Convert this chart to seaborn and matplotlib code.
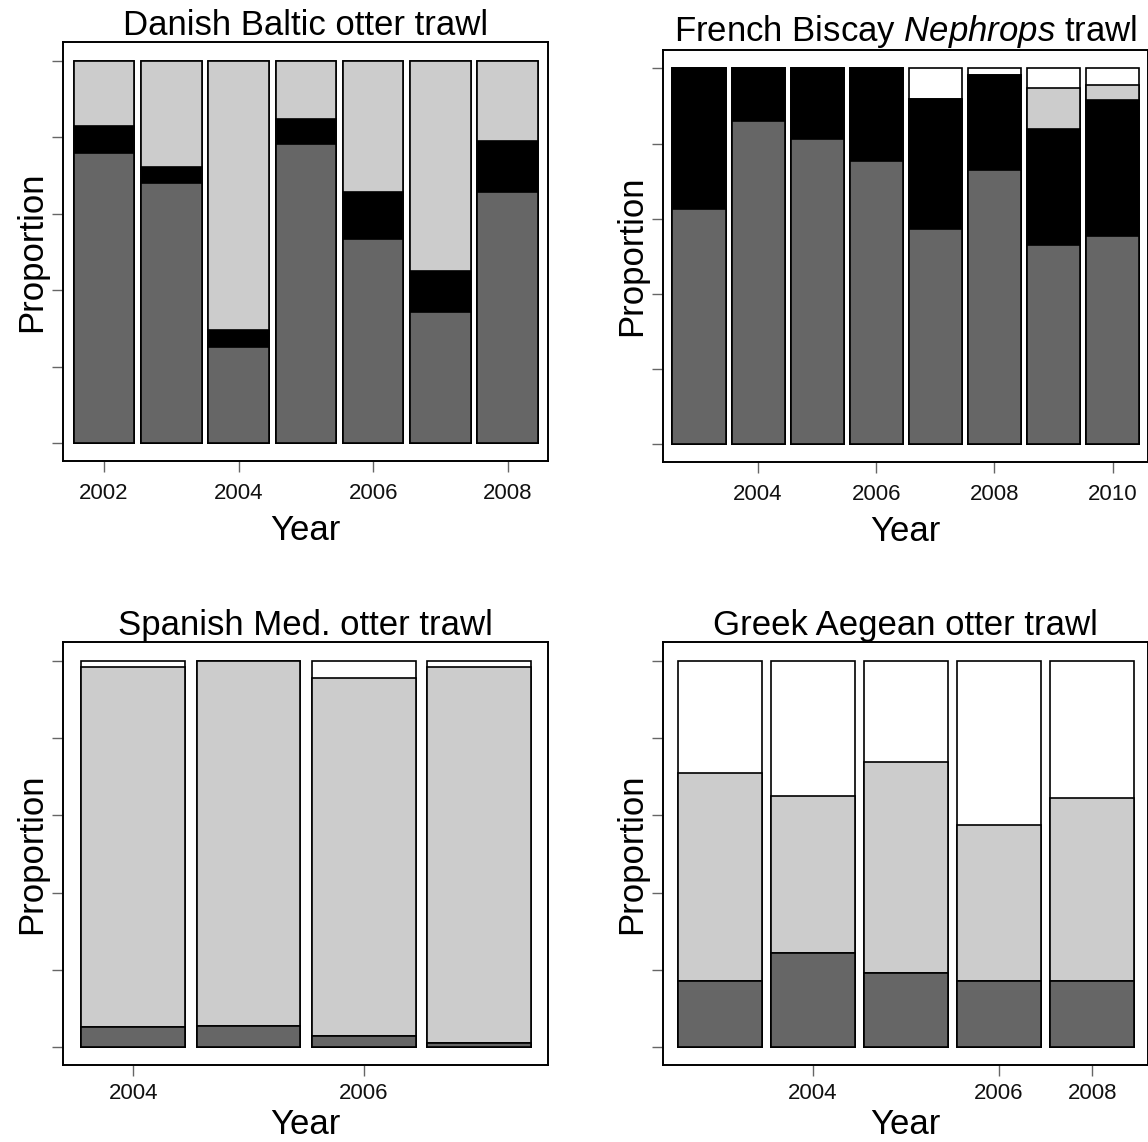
import matplotlib
matplotlib.use("Agg")
import matplotlib.pyplot as plt
import numpy as np
import pandas as pd
import seaborn as sns

# Danish Baltic otter trawl
danish_years = ["2002", "2003", "2004", "2005", "2006", "2007", "2008"]
danish_dark = [0.760, 0.680, 0.252, 0.783, 0.535, 0.343, 0.657]
danish_black = [0.070, 0.041, 0.045, 0.064, 0.121, 0.108, 0.134]
danish_light = [0.170, 0.279, 0.703, 0.153, 0.344, 0.549, 0.209]
danish_white = [0, 0, 0, 0, 0, 0, 0]
danish_ticks = [0, 2, 4, 6]
danish_ticklabels = ["2002", "2004", "2006", "2008"]

# French Biscay Nephrops trawl
french_years = ["2003", "2004", "2005", "2006", "2007", "2008", "2009", "2010"]
french_dark = [0.625, 0.860, 0.811, 0.754, 0.574, 0.731, 0.531, 0.555]
french_black = [0.375, 0.140, 0.189, 0.246, 0.346, 0.252, 0.308, 0.360]
french_light = [0, 0, 0, 0, 0, 0, 0.108, 0.042]
french_white = [0, 0, 0, 0, 0.080, 0.017, 0.053, 0.043]
french_ticks = [1, 3, 5, 7]
french_ticklabels = ["2004", "2006", "2008", "2010"]

# Spanish Med. otter trawl
spanish_years = ["2004", "2005", "2006", "2007"]
spanish_dark = [0.051, 0.055, 0.027, 0.009]
spanish_black = [0, 0, 0, 0]
spanish_light = [0.934, 0.945, 0.929, 0.976]
spanish_white = [0.015, 0, 0.044, 0.015]
spanish_ticks = [0, 2]
spanish_ticklabels = ["2004", "2006"]

# Greek Aegean otter trawl
greek_years = ["2003", "2004", "2005", "2006", "2008"]
greek_dark = [0.172, 0.243, 0.191, 0.172, 0.172]
greek_black = [0, 0, 0, 0, 0]
greek_light = [0.538, 0.407, 0.548, 0.402, 0.472]
greek_white = [0.290, 0.350, 0.261, 0.426, 0.356]
greek_ticks = [1, 3, 4]
greek_ticklabels = ["2004", "2006", "2008"]

layer_colors = ["white", "#cccccc", "black", "#666666"]

sns.set_style("ticks")
plt.rcParams["font.family"] = ["Liberation Sans", "DejaVu Sans"]
plt.rcParams["mathtext.fontset"] = "custom"
plt.rcParams["mathtext.rm"] = "Liberation Sans"
plt.rcParams["mathtext.it"] = "Liberation Sans:italic"
plt.rcParams["text.color"] = "black"
plt.rcParams["axes.labelcolor"] = "black"


def draw_panel(ax, years, dark, black, light, white, ticks, ticklabels, title,
               tick_pad=7, xlabel_pad=1):
    df = pd.DataFrame({
        "year": years,
        "dark": dark,
        "black": black,
        "light": light,
        "white": white,
    })
    # cumulative tops, drawn from the tallest layer down
    df["c_dark"] = df["dark"]
    df["c_black"] = df["c_dark"] + df["black"]
    df["c_light"] = df["c_black"] + df["light"]
    df["c_white"] = df["c_light"] + df["white"]

    for col, colour in zip(["c_white", "c_light", "c_black", "c_dark"], layer_colors):
        sns.barplot(
            data=df,
            x="year",
            y=col,
            color=colour,
            saturation=1,
            width=0.9,
            edgecolor="black",
            linewidth=1.2,
            errorbar=None,
            ax=ax,
        )

    n = len(years)
    ax.set_xlim(-0.61, n - 1 + 0.6)
    ax.set_ylim(-0.047, 1.049)
    ax.set_yticks([0, 0.2, 0.4, 0.6, 0.8, 1.0])
    ax.set_yticklabels([])
    ax.set_xticks(ticks)
    ax.set_xticklabels(ticklabels, fontsize=16, color="#111111")
    ax.tick_params(axis="both", length=8, width=1, color="#666666")
    ax.tick_params(axis="x", pad=tick_pad)
    for spine in ax.spines.values():
        spine.set_visible(True)
        spine.set_color("black")
        spine.set_linewidth(1.4)
    ax.set_title(title, fontsize=25, pad=5)
    ax.set_xlabel("Year", fontsize=25, labelpad=xlabel_pad)
    ax.set_ylabel("Proportion", fontsize=25, labelpad=-1)


fig = plt.figure(figsize=(11.48, 11.42), dpi=100)

ax1 = fig.add_axes([0.0549, 0.5963, 0.4225, 0.3669])
ax2 = fig.add_axes([0.5775, 0.5954, 0.4225, 0.3608])
ax3 = fig.add_axes([0.0549, 0.0674, 0.4225, 0.3704])
ax4 = fig.add_axes([0.5775, 0.0674, 0.4225, 0.3704])

draw_panel(ax1, danish_years, danish_dark, danish_black, danish_light, danish_white,
           danish_ticks, danish_ticklabels, "Danish Baltic otter trawl",
           tick_pad=8, xlabel_pad=7)
draw_panel(ax2, french_years, french_dark, french_black, french_light, french_white,
           french_ticks, french_ticklabels, "French Biscay $\\mathit{Nephrops}$ trawl",
           tick_pad=8, xlabel_pad=7)
draw_panel(ax3, spanish_years, spanish_dark, spanish_black, spanish_light, spanish_white,
           spanish_ticks, spanish_ticklabels, "Spanish Med. otter trawl",
           tick_pad=5, xlabel_pad=3)
draw_panel(ax4, greek_years, greek_dark, greek_black, greek_light, greek_white,
           greek_ticks, greek_ticklabels, "Greek Aegean otter trawl",
           tick_pad=5, xlabel_pad=3)

fig.savefig("out.png", dpi=100)
